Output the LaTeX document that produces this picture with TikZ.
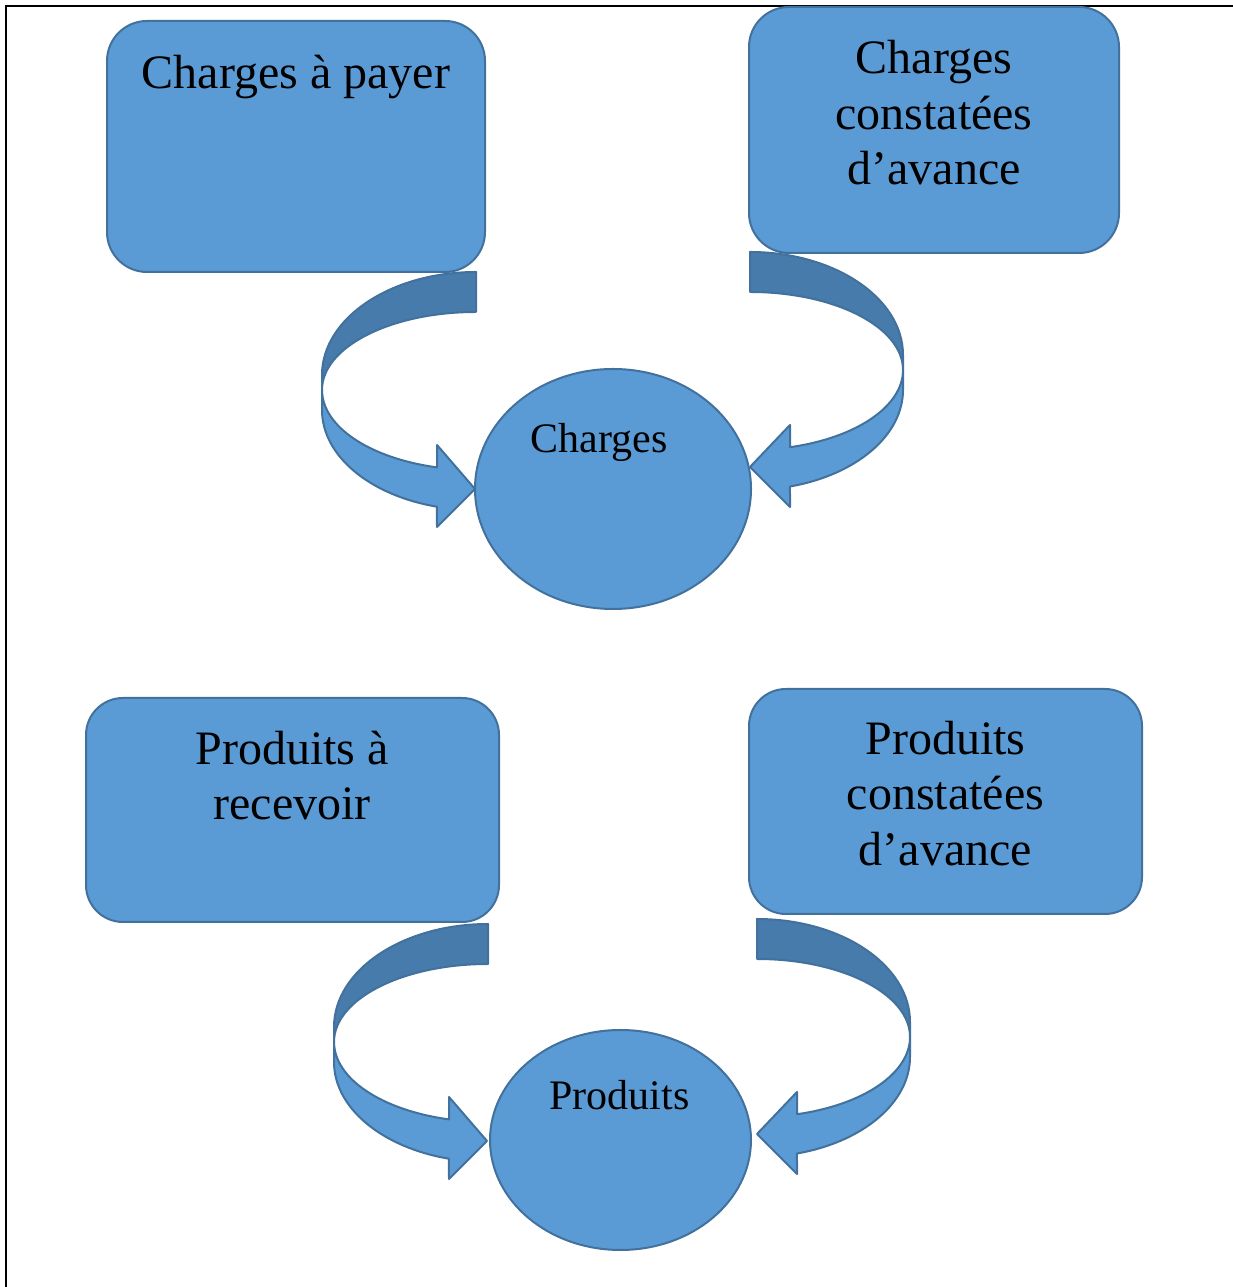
\documentclass[tikz,border=0pt]{standalone}
\usepackage{fontspec}
\setmainfont{Liberation Serif}
\usetikzlibrary{shapes.geometric}
\definecolor{blue1}{HTML}{5B9BD5}
\definecolor{blue2}{HTML}{477BAB}
\definecolor{outl}{HTML}{41719C}
\tikzset{
  boxshape/.style={draw=outl, fill=blue1, line width=2pt, rectangle, rounded corners=40pt, inner sep=0pt},
  ellshape/.style={draw=outl, fill=blue1, line width=2pt, ellipse, inner sep=0pt},
  bigtxt/.style={anchor=base, inner sep=0pt, font=\fontsize{48}{56}\selectfont},
  smalltxt/.style={anchor=base, inner sep=0pt, font=\fontsize{42}{48}\selectfont},
  backpart/.style={draw=outl, fill=blue2, line width=2pt, line join=round},
  frontpart/.style={draw=outl, fill=blue1, line width=2pt, line join=round},
  leftarrow/.pic={
    \path[backpart] (0,0) arc[start angle=90,end angle=180,x radius=154pt,y radius=103pt]
      -- (-154,-118) arc[start angle=180,end angle=90,x radius=154pt,y radius=78pt] -- cycle;
    \path[frontpart] (-154,-118) -- (-154,-138)
      arc[start angle=180,end angle=255.3,x radius=154pt,y radius=100pt]
      -- (-39,-255) -- (-1,-217) -- (-39,-173) -- (-39,-195.4)
      arc[start angle=255.3,end angle=180,x radius=154pt,y radius=80pt] -- cycle;
  },
  rightarrow/.pic={
    \path[backpart] (0,0) arc[start angle=90,end angle=0,x radius=153pt,y radius=103pt]
      -- (153,-118) arc[start angle=0,end angle=90,x radius=153pt,y radius=78pt] -- cycle;
    \path[frontpart] (153,-118) -- (153,-138)
      arc[start angle=0,end angle=-74.85,x radius=153pt,y radius=100pt]
      -- (40,-255) -- (0,-215) -- (40,-173) -- (40,-195.2)
      arc[start angle=-74.85,end angle=0,x radius=153pt,y radius=80pt] -- cycle;
  }
}
\begin{document}
\begin{tikzpicture}[x=1pt,y=1pt]
\useasboundingbox (0,0) rectangle (1233,1287);
% frame
\draw[black, line width=1.6pt] (6,0) -- (6,1281) -- (1233,1281);
% boxes
\node[boxshape, minimum width=378pt, minimum height=251pt] (b1) at (296,1140.5) {};
\node[boxshape, minimum width=370pt, minimum height=246pt] (b2) at (934,1157) {};
\node[boxshape, minimum width=413pt, minimum height=224pt, rounded corners=37pt] (b3) at (292.5,477) {};
\node[boxshape, minimum width=393pt, minimum height=225pt, rounded corners=37pt] (b4) at (945.5,485.5) {};
% curved arrows
\pic (a1) at (476,1015) {leftarrow};
\pic (a2) at (750,1035) {rightarrow};
\pic (a3) at (488,363) {leftarrow};
\pic (a4) at (757,368) {rightarrow};
% ellipses
\node[ellshape, minimum width=276pt, minimum height=240pt] (c1) at (613,798) {};
\node[ellshape, minimum width=261pt, minimum height=220pt] (c2) at (620.5,147) {};
% texts
\node[bigtxt] (t1) at (296,1198) {Charges à payer};
\node[bigtxt] (t2a) at (934,1213) {Charges};
\node[bigtxt] (t2b) at (934,1157) {constatées};
\node[bigtxt] (t2c) at (934,1102) {d’avance};
\node[bigtxt] (t3a) at (292,522) {Produits à};
\node[bigtxt] (t3b) at (292,467) {recevoir};
\node[bigtxt] (t4a) at (945.5,532) {Produits};
\node[bigtxt] (t4b) at (945.5,477) {constatées};
\node[bigtxt] (t4c) at (945.5,421) {d’avance};
\node[smalltxt] (tc1) at (599,834) {Charges};
\node[smalltxt] (tc2) at (619.5,177) {Produits};
\end{tikzpicture}
\end{document}
